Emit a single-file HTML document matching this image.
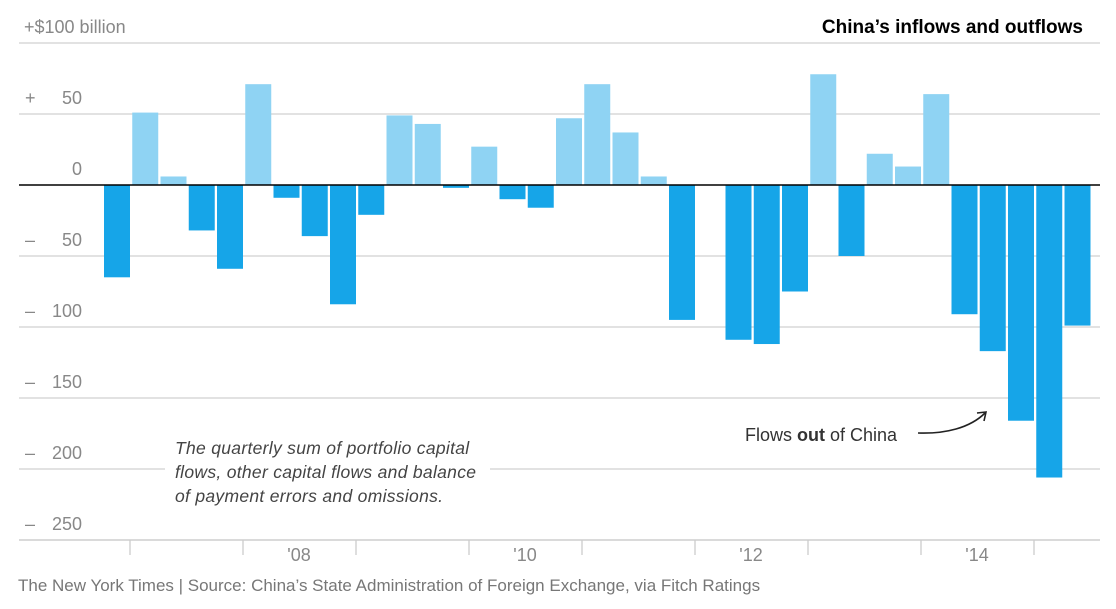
<!DOCTYPE html>
<html><head><meta charset="utf-8"><style>
body{margin:0;background:#fff;}
svg{display:block;font-family:"Liberation Sans",sans-serif;}
</style></head><body>
<svg id="chart" width="1116" height="609">
<g id="grid"></g>
<g id="bars"></g>
<g id="axis"></g>
<text x="1083" y="33" text-anchor="end" font-size="19" font-weight="bold" fill="#000">China’s inflows and outflows</text>
<rect x="165" y="432" width="325" height="78" fill="#fff"/>
<text font-size="17.5" font-style="italic" fill="#444" letter-spacing="0.3">
<tspan x="175" y="454">The quarterly sum of portfolio capital</tspan>
<tspan x="175" y="478">flows, other capital flows and balance</tspan>
<tspan x="175" y="502">of payment errors and omissions.</tspan></text>
<text x="745" y="441" font-size="18" fill="#333">Flows <tspan font-weight="bold">out</tspan> of China</text>
<path d="M918,433 C945,434 970,428 985,413" fill="none" stroke="#222" stroke-width="1.6"/>
<path d="M977,413 L986,412 L984,421" fill="none" stroke="#222" stroke-width="1.6"/>
<text x="18" y="591" font-size="17" fill="#777">The New York Times  |  Source: China’s State Administration of Foreign Exchange, via Fitch Ratings</text>
</svg>
<script>
const values = [-65,51,6,-32,-59,71,-9,-36,-84,-21,49,43,-2,27,-10,-16,47,71,37,6,-95,0,-109,-112,-75,78,-50,22,13,64,-91,-117,-166,-206,-99];
const yTicks = [100,50,0,-50,-100,-150,-200,-250];
const ySigns = ["+","+","","–","–","–","–","–"];
const yNums = ["$100 billion","50","0","50","100","150","200","250"];
const yearLabels = ["","'08","","'10","","'12","","'14",""];
const NS="http://www.w3.org/2000/svg";
function y(v){return 185 - v*1.42;}
function x(i){return 104 + i*28.25;}
function mk(t,a,p){const e=document.createElementNS(NS,t);for(const k in a)e.setAttribute(k,a[k]);p.appendChild(e);return e;}
const grid=document.getElementById('grid'),bars=document.getElementById('bars'),axis=document.getElementById('axis');
yTicks.forEach((v,i)=>{
  if(v!==0){const l=mk('line',{x1:19,x2:1100,y1:y(v),y2:y(v),stroke:'#d0d0d0','stroke-width':1.3},grid);
  
  }
  if(i===0){
    const t=mk('text',{x:24,y:y(v)-10,'font-size':18,fill:'#888'},grid);
    t.textContent=ySigns[i]+yNums[i];
    
    
    return;
  }
  if(ySigns[i]){const s=mk('text',{x:25,y:y(v)-10,'font-size':18,fill:'#888'},grid);
  s.textContent=ySigns[i];
  
  }
  const t=mk('text',{x:82,y:y(v)-10,'font-size':18,fill:'#888','text-anchor':'end'},grid);
  t.textContent=yNums[i];
  
  
});
values.forEach((v,i)=>{
  if(v===0)return;
  const r=mk('rect',{x:x(i),width:26,y:Math.min(y(v),y(0)),height:Math.abs(y(v)-y(0)),fill:v>0?'#8fd3f3':'#16a5e8'},bars);
  
  
});
const z=mk('line',{x1:19,x2:1100,y1:y(0),y2:y(0),stroke:'#000','stroke-width':1.6},axis);


const xa=mk('line',{x1:19,x2:1100,y1:540,y2:540,stroke:'#ccc','stroke-width':1.3},axis);


yearLabels.forEach((lab,j)=>{
  const tx=130+j*113;
  const tk=mk('line',{x1:tx,x2:tx,y1:540,y2:555,stroke:'#ccc','stroke-width':1.3},axis);
  
  
  if(lab){const t=mk('text',{x:tx+56,y:561,'font-size':18,fill:'#888','text-anchor':'middle'},axis);
  t.textContent=lab;
  
  }
});
</script>
</body></html>
